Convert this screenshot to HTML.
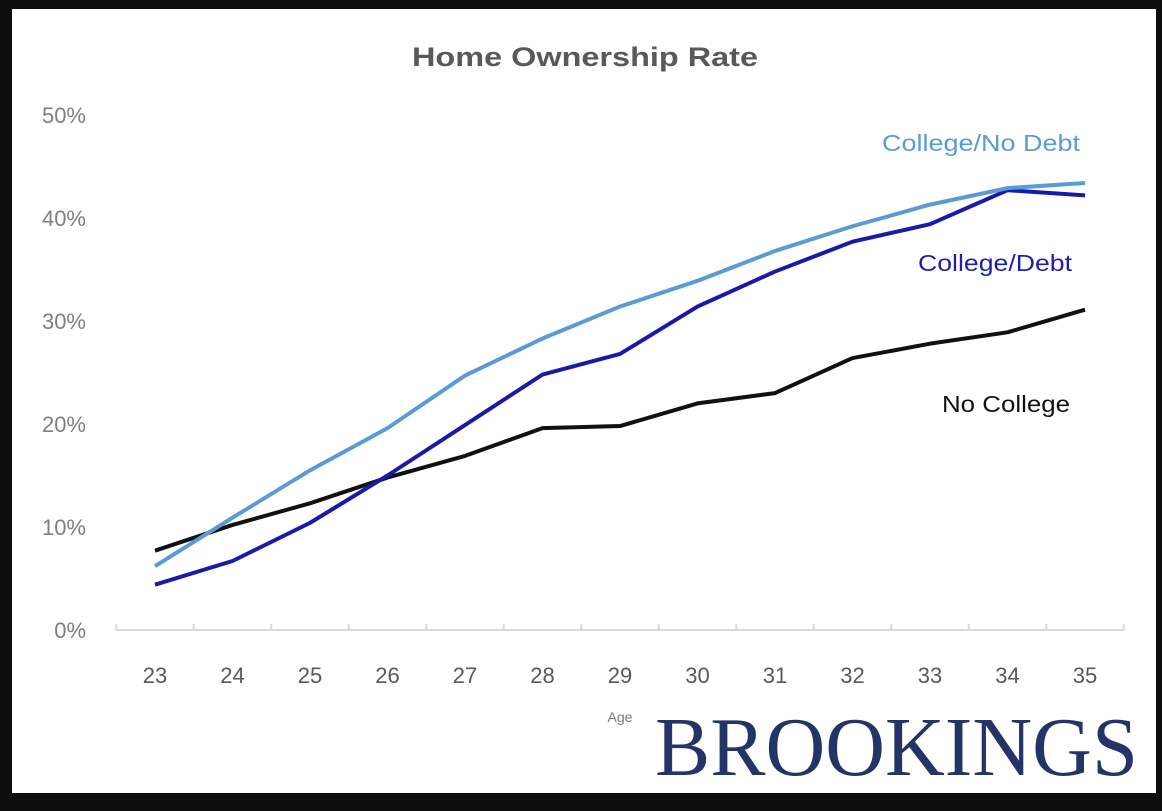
<!DOCTYPE html>
<html><head><meta charset="utf-8"><style>
body{margin:0;background:#0e0e0e;width:1162px;height:806px;overflow:hidden}
</style></head><body>
<svg width="1162" height="806" xmlns="http://www.w3.org/2000/svg">
<rect x="12" y="9" width="1144" height="784" fill="#fff"/>
<text x="412" y="66" font-family="Liberation Sans, sans-serif" font-weight="bold" font-size="27" fill="#595959" textLength="346" lengthAdjust="spacingAndGlyphs">Home Ownership Rate</text>
<g id="axes"></g>
<g id="series"></g>
<text x="882" y="151" font-family="Liberation Sans, sans-serif" font-size="23" fill="#5b9bd5" textLength="198" lengthAdjust="spacingAndGlyphs">College/No Debt</text>
<text x="918" y="271" font-family="Liberation Sans, sans-serif" font-size="23" fill="#1f1fa8" textLength="154" lengthAdjust="spacingAndGlyphs">College/Debt</text>
<text x="942" y="412" font-family="Liberation Sans, sans-serif" font-size="23" fill="#111" textLength="128" lengthAdjust="spacingAndGlyphs">No College</text>
<text x="620" y="722" text-anchor="middle" font-family="Liberation Sans, sans-serif" font-size="14" fill="#777">Age</text>
<text x="655" y="775" font-family="Liberation Serif, serif" font-size="84" fill="#243466" textLength="483" lengthAdjust="spacingAndGlyphs">BROOKINGS</text>
</svg>
<script>
const ages=[23,24,25,26,27,28,29,30,31,32,33,34,35];
const noDebt=[6.2,10.9,15.5,19.6,24.7,28.3,31.4,33.9,36.8,39.2,41.3,42.9,43.4];
const debt=[4.4,6.7,10.4,15.0,19.9,24.8,26.8,31.4,34.8,37.7,39.4,42.7,42.2];
const noCollege=[7.7,10.2,12.3,14.8,16.9,19.6,19.8,22.0,23.0,26.4,27.8,28.9,31.1];
const yTicks=[0,10,20,30,40,50];
const NS="http://www.w3.org/2000/svg";
function xs(i){return 155+i*(930/(ages.length-1));}
function ys(v){return 630-v*10.3;}
const ax=document.getElementById('axes'),sg=document.getElementById('series');
function mk(tag,attrs,parent){const e=document.createElementNS(NS,tag);for(const k in attrs)e.setAttribute(k,attrs[k]);parent.appendChild(e);return e;}
const step=930/(ages.length-1);
const axisLine=mk('line',{x1:xs(0)-step/2,x2:xs(ages.length-1)+step/2,y1:630,y2:630,stroke:'#d9d9d9','stroke-width':2},ax);


for(let i=0;i<=ages.length;i++){
  const x=xs(0)-step/2+i*step;
  const t=mk('line',{x1:x,x2:x,y1:624,y2:630,stroke:'#d9d9d9','stroke-width':2},ax);
  
  
}
ages.forEach((a,i)=>{
  const t=mk('text',{x:xs(i),y:683,'text-anchor':'middle','font-family':'Liberation Sans, sans-serif','font-size':22,fill:'#595959'},ax);
  t.textContent=a;
  
  
});
yTicks.forEach(v=>{
  const t=mk('text',{x:86,y:ys(v)+8,'text-anchor':'end','font-family':'Liberation Sans, sans-serif','font-size':22,fill:'#7f7f7f'},ax);
  t.textContent=v+'%';
  
  
});
function line(vals,color,name){
  const p=mk('polyline',{points:vals.map((v,i)=>xs(i)+','+ys(v)).join(' '),fill:'none',stroke:color,'stroke-width':4,'stroke-linejoin':'round'},sg);
  
  
}
line(noCollege,'#111111','line-no-college');
line(debt,'#1a1aa6','line-college-debt');
line(noDebt,'#5b9bd5','line-college-no-debt');
</script>
</body></html>
